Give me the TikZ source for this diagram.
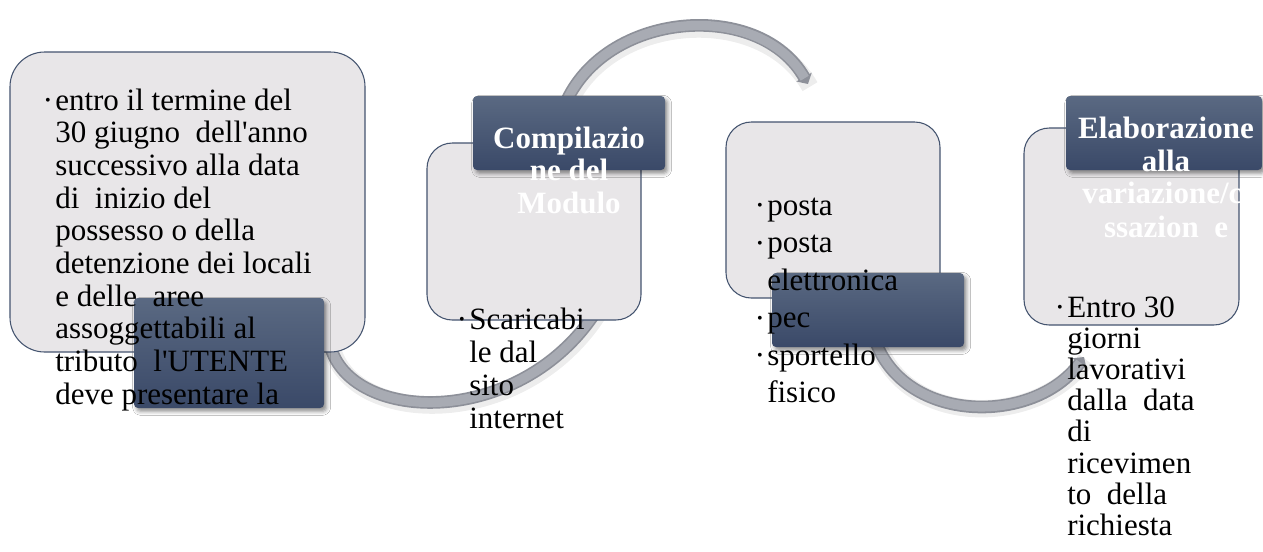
\documentclass[tikz,border=0pt]{standalone}
\usepackage{fontspec}
\setmainfont{Liberation Serif}
\usetikzlibrary{arrows.meta,shadows.blur,fit}
\definecolor{boxfill}{HTML}{E8E6E8}
\definecolor{boxline}{HTML}{44546F}
\definecolor{darktop}{HTML}{5A6982}
\definecolor{darkbot}{HTML}{3A4968}
\definecolor{arcedge}{HTML}{8D9099}
\definecolor{arcfill}{HTML}{A8ABB3}
\newcommand\mybul{\llap{\raisebox{0.3ex}{\fontsize{12}{12}\selectfont •}\hspace{3.5pt}}}
\begin{document}
\begin{tikzpicture}[x=0.75pt,y=-0.75pt,
  lightbox/.style={draw=boxline, line width=0.8pt, fill=boxfill, rounded corners=19pt, inner sep=0pt},
  bigbox/.style={lightbox, rounded corners=26pt},
  darkbox/.style={top color=darktop, bottom color=darkbot, draw=none, rounded corners=3pt, inner sep=0pt,
     blur shadow={shadow xshift=2pt, shadow yshift=-2.5pt, shadow blur radius=3pt, shadow opacity=45}},
  arcshadow/.style={line width=13pt, draw=black, opacity=0.07},
  arcouter/.style={line width=9.5pt, draw=arcedge},
  arcinner/.style={line width=7pt, draw=arcfill},
  body/.style={font=\fontsize{23.25}{24.5}\selectfont, inner sep=0pt, anchor=base west, text=black},
  head/.style={font=\bfseries\fontsize{23.25}{24.5}\selectfont, inner sep=0pt, anchor=base, text=white},
]
\useasboundingbox (0,0) rectangle (1263,551);
\fill[white] (0,0) rectangle (1263,551);

% connector end points
\coordinate (a1s) at (330,345);
\coordinate (a1e) at (600,305);
\coordinate (a2s) at (567,100);
\coordinate (a2e) at (808,84);
\coordinate (a3s) at (875,340);
\coordinate (a3e) at (1084,357);

% arcs (drawn under the boxes)
\draw[arcshadow, transform canvas={xshift=1.5pt,yshift=-2pt}] (a1s) .. controls (350,425) and (525,430) .. (a1e);
\draw[arcshadow, transform canvas={xshift=1.5pt,yshift=-2pt}] (a3s) .. controls (905,425) and (1035,425) .. (a3e);
\draw[arcshadow, transform canvas={xshift=1.5pt,yshift=-2pt}] (a2s) .. controls (610,10) and (760,0) .. (a2e);
\draw[arcouter] (a1s) .. controls (350,425) and (525,430) .. (a1e);
\draw[arcinner] (a1s) .. controls (350,425) and (525,430) .. (a1e);
\draw[arcouter, -{Triangle[length=6pt,width=13pt]}] (a2s) .. controls (610,10) and (760,0) .. (a2e);
\draw[arcinner, shorten >=5pt] (a2s) .. controls (610,10) and (760,0) .. (a2e);
\draw[arcouter, -{Triangle[length=6pt,width=13pt]}] (a3s) .. controls (905,425) and (1035,425) .. (a3e);
\draw[arcinner, shorten >=5pt] (a3s) .. controls (905,425) and (1035,425) .. (a3e);

% light boxes
\node[bigbox, fit={(10,52) (365,352)}] (b1) {};
\node[lightbox, fit={(427,143) (641,320)}] (b2) {};
\node[lightbox, fit={(726,122) (940,298)}] (b3) {};
\node[lightbox, fit={(1024,128) (1239,325)}] (b4) {};

% dark boxes
\node[darkbox, fit={(134,298) (324,408)}] (d1) {};
\node[darkbox, fit={(473,96) (665,170)}] (d2) {};
\node[darkbox, fit={(772,273) (964,347)}] (d3) {};
\node[darkbox, fit={(1066,96) (1262,170)}] (d4) {};

% box 1 text
\foreach \t [count=\i] in {\mybul entro il termine del, 30 giugno\ \ dell\textquotesingle anno, successivo alla data, di\ \ inizio del, possesso o della, detenzione dei locali, e delle\ \ aree, assoggettabili al, tributo\ \ l\textquotesingle UTENTE, deve presentare la}{
  \node[body] (t1-\i) at (55,{110+32.7*(\i-1)}) {\t};
}

% box 2 texts
\foreach \t [count=\i] in {Compilazio, ne del, Modulo}{
  \node[head] (h2-\i) at (569,{148+32.5*(\i-1)}) {\t};
}
\foreach \t [count=\i] in {\mybul Scaricabi, le dal, sito, internet}{
  \node[body] (t2-\i) at (469,{329+33*(\i-1)}) {\t};
}

% box 3 text
\foreach \t [count=\i] in {\mybul posta, \mybul posta, elettronica, \mybul pec, \mybul sportello, fisico}{
  \node[body] (t3-\i) at (767,{215+37.5*(\i-1)}) {\t};
}

% box 4 texts
\node[head] (h4-1) at (1166,138) {Elaborazione};
\node[head] (h4-2) at (1166,171) {alla};
\node[head, anchor=base west] (h4-3) at (1082,203) {variazione/c};
\node[head] (h4-4) at (1166,237) {ssazion\ \ e};
\foreach \t [count=\i] in {\mybul Entro 30, giorni, lavorativi, dalla\ \ data, di, ricevimen, to\ \ della, richiesta}{
  \node[body] (t4-\i) at (1067,{317+31.2*(\i-1)}) {\t};
}
\end{tikzpicture}
\end{document}
